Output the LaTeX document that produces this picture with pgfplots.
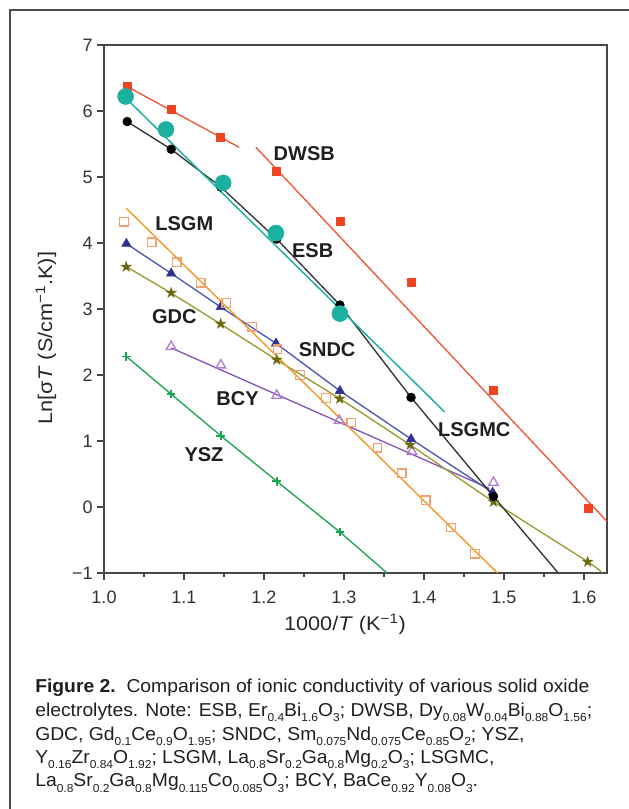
\documentclass[border=0pt]{standalone}
\usepackage{fontspec}
\setmainfont{Liberation Sans}
\newfontfamily\capfont{Liberation Sans}[FakeStretch=1.035]
\newfontfamily\labfont{Liberation Sans}[FakeStretch=1.1]
\newfontfamily\dejavu{DejaVu Sans}
\usepackage{pgfplots}
\pgfplotsset{compat=1.18}
\usetikzlibrary{plotmarks}
\definecolor{cred}{HTML}{EE4422}
\definecolor{credl}{HTML}{F05535}
\definecolor{cteal}{HTML}{1BB0A0}
\definecolor{corange}{HTML}{F7941D}
\definecolor{corangem}{HTML}{F4A070}
\definecolor{cblue}{HTML}{2E3192}
\definecolor{cbluel}{HTML}{4A56B8}
\definecolor{colive}{HTML}{6B6B10}
\definecolor{colivel}{HTML}{9A9A30}
\definecolor{cpurple}{HTML}{8855BB}
\definecolor{cpurplem}{HTML}{B080D0}
\definecolor{cgreen}{HTML}{1AA550}
\newcommand\sub[1]{\raisebox{-0.32em}{\fontsize{8.7pt}{8.7pt}\selectfont #1}}
\begin{document}
\begin{tikzpicture}
\useasboundingbox (-78pt,-177pt) rectangle (393pt,429.75pt);
\draw[black!70, line width=1.1pt] (-70.5pt,-180pt) -- (-70.5pt,422.25pt) -- (400pt,422.25pt);
\begin{axis}[
  at={(0,0)}, anchor=south west,
  scale only axis, width=377.25pt, height=396pt,
  xmin=1.0, xmax=1.629, ymin=-1, ymax=7,
  xtick={1.0,1.1,1.2,1.3,1.4,1.5,1.6},
  xticklabels={1.0,1.1,1.2,1.3,1.4,1.5,1.6},
  minor xtick={1.05,1.15,1.25,1.35,1.45,1.55},
  ytick={-1,0,1,2,3,4,5,6,7},
  yticklabels={−1,0,1,2,3,4,5,6,7},
  xtick pos=bottom, ytick pos=left,
  tick align=outside,
  major tick length=5pt, minor tick length=3pt,
  axis line style={draw=black!72, line width=1.2pt},
  every tick/.style={black!72, line width=1.1pt},
  ticklabel style={font=\fontsize{13.5pt}{16pt}\selectfont, text=black!80},
  xticklabel style={yshift=-5pt},
  /pgf/number format/assume math mode=true,
  xlabel={1000/\textit{T} (K\textsuperscript{−1})},
  ylabel={Ln[σ\textit{T} (S/cm\textsuperscript{−1}.K)]},
  xlabel style={at={(axis description cs:0.479,-0.0966)}, anchor=center, font=\labfont\fontsize{14.8pt}{16pt}\selectfont, text=black!85},
  ylabel style={at={(axis description cs:-0.1153,0.445)}, anchor=center, font=\labfont\fontsize{14.8pt}{16pt}\selectfont, text=black!85},
  clip=true,
]
% YSZ
\addplot[cgreen, line width=1pt] coordinates {(1.028,2.28) (1.084,1.71) (1.146,1.08) (1.216,0.39) (1.295,-0.38) (1.354,-1.0)};
\addplot[only marks, mark=+, mark size=3.2pt, cgreen, mark options={line width=1.4pt}] coordinates {(1.028,2.28) (1.084,1.71) (1.146,1.08) (1.216,0.39) (1.295,-0.38)};
% BCY
\addplot[cpurple, line width=1pt] coordinates {(1.084,2.41) (1.482,0.28)};
\addplot[only marks, mark=triangle, mark size=4.2pt, cpurplem, mark options={line width=1pt}] coordinates {(1.084,2.43) (1.146,2.15) (1.216,1.69) (1.294,1.31) (1.385,0.84) (1.487,0.37)};
% GDC
\addplot[colivel, line width=1pt, smooth, tension=0.4] coordinates {(1.028,3.64) (1.084,3.24) (1.146,2.77) (1.216,2.23) (1.295,1.64) (1.383,0.94) (1.487,0.08) (1.605,-0.83) (1.623,-1.0)};
\addplot[only marks, colive, mark=text, text mark={\color{colive}\dejavu\fontsize{12pt}{12pt}\selectfont ★}] coordinates {(1.028,3.64) (1.084,3.24) (1.146,2.77) (1.216,2.23) (1.295,1.64) (1.383,0.94) (1.487,0.08) (1.605,-0.83)};
% SNDC
\addplot[cbluel, line width=1pt] coordinates {(1.028,3.99) (1.084,3.54) (1.146,3.03) (1.215,2.48) (1.295,1.76) (1.384,1.03) (1.486,0.22)};
\addplot[only marks, mark=triangle*, mark size=4pt, cblue] coordinates {(1.028,3.99) (1.084,3.54) (1.146,3.03) (1.215,2.48) (1.295,1.76) (1.384,1.03) (1.486,0.22)};
% LSGM
\addplot[corange, line width=1pt] coordinates {(1.0275,4.53) (1.492,-1.0)};
\addplot[only marks, mark=square, mark size=3.2pt, corangem, mark options={line width=1pt}] coordinates {(1.025,4.32) (1.0596,4.01) (1.091,3.71) (1.121,3.40) (1.153,3.09) (1.185,2.73) (1.217,2.39) (1.245,2.00) (1.2775,1.65) (1.309,1.28) (1.342,0.90) (1.3725,0.51) (1.4025,0.10) (1.434,-0.31) (1.464,-0.71)};
% DWSB
\addplot[credl, line width=1pt] coordinates {(1.029,6.37) (1.169,5.45)};
\addplot[credl, line width=1pt] coordinates {(1.19,5.45) (1.629,-0.22)};
\addplot[only marks, mark=square*, mark size=3pt, cred] coordinates {(1.029,6.37) (1.084,6.02) (1.146,5.60) (1.216,5.09) (1.295,4.33) (1.384,3.40) (1.487,1.77) (1.605,-0.02)};
% black (LSGMC)
\addplot[black!80, line width=1pt] coordinates {(1.029,5.84) (1.084,5.42) (1.146,4.85) (1.216,4.06) (1.295,3.06) (1.384,1.66) (1.487,0.16) (1.568,-1.0)};
\addplot[only marks, mark=*, mark size=3.3pt, black] coordinates {(1.029,5.84) (1.084,5.42) (1.146,4.85) (1.216,4.06) (1.295,3.06) (1.384,1.66) (1.487,0.16)};
% teal (ESB)
\addplot[cteal, line width=1.1pt] coordinates {(1.027,6.2) (1.426,1.44)};
\addplot[only marks, mark=*, mark size=6pt, cteal, mark options={draw=cteal}] coordinates {(1.027,6.22) (1.0775,5.72) (1.149,4.91) (1.215,4.15) (1.295,2.93)};
% labels
\begin{scope}[every node/.style={font=\fontsize{15pt}{16pt}\selectfont\bfseries, text=black!88, inner sep=0pt}]
\node at (axis cs:1.2504,5.36) {DWSB};
\node at (axis cs:1.1004,4.30) {LSGM};
\node at (axis cs:1.261,3.89) {ESB};
\node at (axis cs:1.0879,2.88) {GDC};
\node at (axis cs:1.279,2.39) {SNDC};
\node at (axis cs:1.167,1.64) {BCY};
\node at (axis cs:1.125,0.79) {YSZ};
\node at (axis cs:1.463,1.17) {LSGMC};
\end{scope}
\end{axis}
\begin{scope}[every node/.style={anchor=base west, inner sep=0pt, font=\capfont\fontsize{14pt}{16pt}\selectfont, text=black!88}]
\node at (-51.75pt,-89.6pt) {\textbf{Figure 2.}\ \ Comparison of ionic conductivity of various solid oxide};
\node at (-51.75pt,-107.25pt) {electrolytes. Note: ESB, Er\sub{0.4}Bi\sub{1.6}O\sub{3}; DWSB, Dy\sub{0.08}W\sub{0.04}Bi\sub{0.88}O\sub{1.56};};
\node at (-51.75pt,-125.25pt) {GDC, Gd\sub{0.1}Ce\sub{0.9}O\sub{1.95}; SNDC, Sm\sub{0.075}Nd\sub{0.075}Ce\sub{0.85}O\sub{2}; YSZ,};
\node at (-51.75pt,-142.5pt) {Y\sub{0.16}Zr\sub{0.84}O\sub{1.92}; LSGM, La\sub{0.8}Sr\sub{0.2}Ga\sub{0.8}Mg\sub{0.2}O\sub{3}; LSGMC,};
\node at (-51.75pt,-160.3pt) {La\sub{0.8}Sr\sub{0.2}Ga\sub{0.8}Mg\sub{0.115}Co\sub{0.085}O\sub{3}; BCY, BaCe\sub{0.92}Y\sub{0.08}O\sub{3}.};
\end{scope}
\end{tikzpicture}
\end{document}
